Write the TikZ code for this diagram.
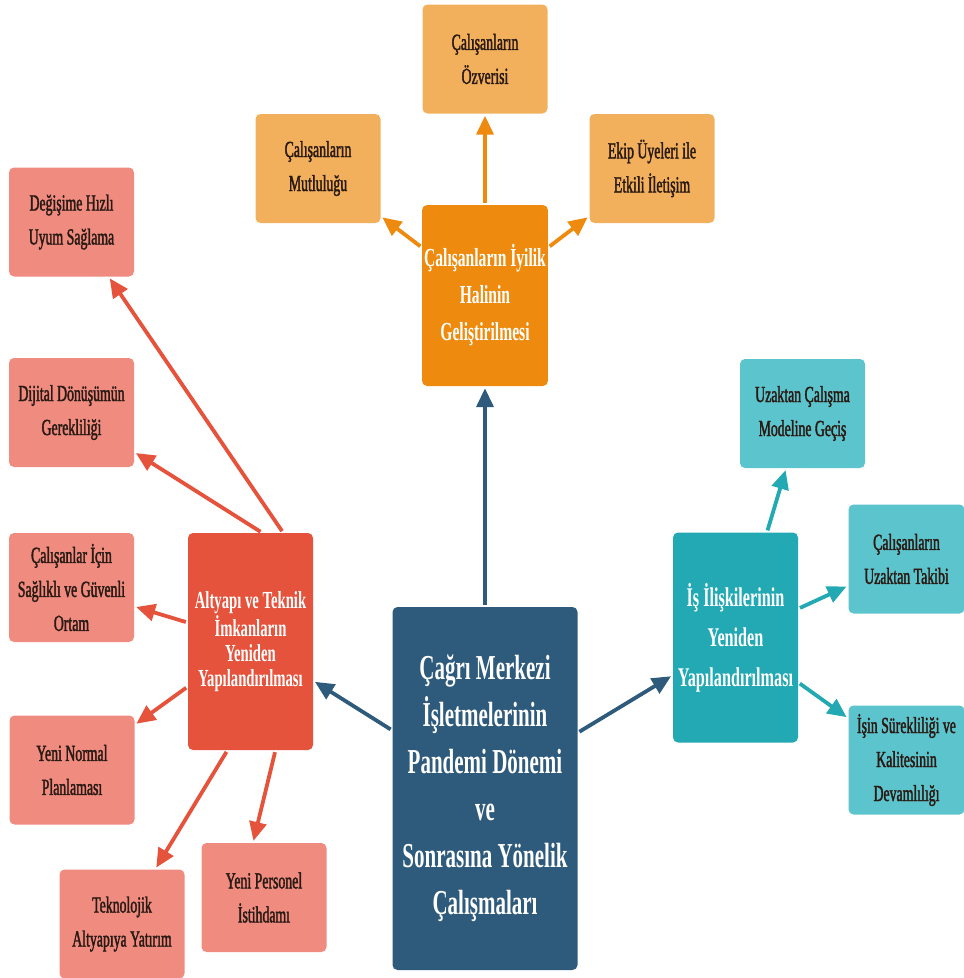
\documentclass[tikz,border=0pt]{standalone}
\usepackage{fontspec}
\setmainfont{Liberation Serif}[FakeStretch=0.6]
\newfontfamily\subfont{Liberation Serif}[FakeStretch=0.6,FakeBold=1.6]
\usetikzlibrary{arrows.meta}
\definecolor{hubblue}{RGB}{46,90,124}
\definecolor{mainorange}{RGB}{238,139,14}
\definecolor{suborange}{RGB}{243,176,92}
\definecolor{mainred}{RGB}{229,83,60}
\definecolor{subred}{RGB}{239,139,127}
\definecolor{mainteal}{RGB}{35,169,179}
\definecolor{subteal}{RGB}{92,196,204}
\definecolor{subtext}{RGB}{42,26,20}
\begin{document}
\begin{tikzpicture}[x=1pt,y=-1pt,
	box/.style={rounded corners=5pt,align=center,inner sep=2pt},
	sub/.style={box,minimum width=125pt,minimum height=109pt,text=subtext,font=\subfont\fontsize{23}{34}\selectfont},
	head/.style={box,minimum width=125pt,text=white,font=\bfseries\fontsize{26}{37}\selectfont},
	arr/.style={line width=3.8pt,-{Triangle[length=19pt,width=17pt]},shorten >=2pt,shorten <=2pt}]
	\useasboundingbox (0,0) rectangle (964,978);
	
	% center
	\node[box,fill=hubblue,text=white,minimum width=185pt,minimum height=363pt,font=\bfseries\fontsize{35}{47}\selectfont] (merkez) at (485,788.5) {Çağrı Merkezi\\İşletmelerinin\\Pandemi Dönemi\\ve\\Sonrasına Yönelik\\Çalışmaları};
	
	% three main topics
	\node[head,fill=mainorange,minimum height=181pt] (iyilik) at (485,295.5) {Çalışanların İyilik\\Halinin\\Geliştirilmesi};
	\node[head,fill=mainred,minimum height=217pt,font=\bfseries\fontsize{24.5}{25}\selectfont] (altyapi) at (250.5,641.5) {Altyapı ve Teknik\\İmkanların\\Yeniden\\Yapılandırılması};
	\node[head,fill=mainteal,minimum height=210pt,font=\bfseries\fontsize{27}{40}\selectfont] (iliski) at (735.5,637.5) {İş İlişkilerinin\\Yeniden\\Yapılandırılması};
	
	% orange
	\node[sub,fill=suborange] (ozveri) at (485,59) {Çalışanların\\Özverisi};
	\node[sub,fill=suborange] (mutluluk) at (318,168.5) {Çalışanların\\Mutluluğu};
	\node[sub,fill=suborange] (ekip) at (652,168.5) {Ekip Üyeleri ile\\Etkili İletişim};
	
	% red
	\node[sub,fill=subred] (degisim) at (71.5,222) {Değişime Hızlı\\Uyum Sağlama};
	\node[sub,fill=subred] (dijital) at (71.5,412.5) {Dijital Dönüşümün\\Gerekliliği};
	\node[sub,fill=subred] (saglik) at (71.5,587.5) {Çalışanlar İçin\\Sağlıklı ve Güvenli\\Ortam};
	\node[sub,fill=subred] (normal) at (72,770) {Yeni Normal\\Planlaması};
	\node[sub,fill=subred] (teknoloji) at (122,924) {Teknolojik\\Altyapıya Yatırım};
	\node[sub,fill=subred] (personel) at (264,897.5) {Yeni Personel\\İstihdamı};
	
	% teal
	\node[sub,fill=subteal] (uzaktan) at (802.5,413.5) {Uzaktan Çalışma\\Modeline Geçiş};
	\node[sub,fill=subteal,minimum width=116pt] (takip) at (906.5,559) {Çalışanların\\Uzaktan Takibi};
	\node[sub,fill=subteal,minimum width=116pt] (sureklilik) at (906.5,760) {İşin Sürekliliği ve\\Kalitesinin\\Devamlılığı};
	
	\draw[arr,hubblue] (merkez) -- (iyilik);
	\draw[arr,hubblue] (merkez) -- (altyapi);
	\draw[arr,hubblue] (merkez) -- (iliski);
	
	\draw[arr,mainorange] (iyilik) -- (ozveri);
	\draw[arr,mainorange] (iyilik) -- (mutluluk);
	\draw[arr,mainorange] (iyilik) -- (ekip);
	
	\draw[arr,mainred] ([xshift=-30pt]altyapi.north east) -- (degisim);
	\draw[arr,mainred] ([xshift=-51pt]altyapi.north east) -- (dijital);
	\draw[arr,mainred] (altyapi) -- (saglik);
	\draw[arr,mainred] (altyapi) -- (normal);
	\draw[arr,mainred] ([xshift=-23pt]altyapi.south) -- (teknoloji);
	\draw[arr,mainred] ([xshift=25pt]altyapi.south) -- ([xshift=-11pt]personel.north);
	
	\draw[arr,mainteal] (iliski) -- (uzaktan);
	\draw[arr,mainteal] (iliski) -- (takip);
	\draw[arr,mainteal] (iliski) -- (sureklilik);
\end{tikzpicture}
\end{document}
